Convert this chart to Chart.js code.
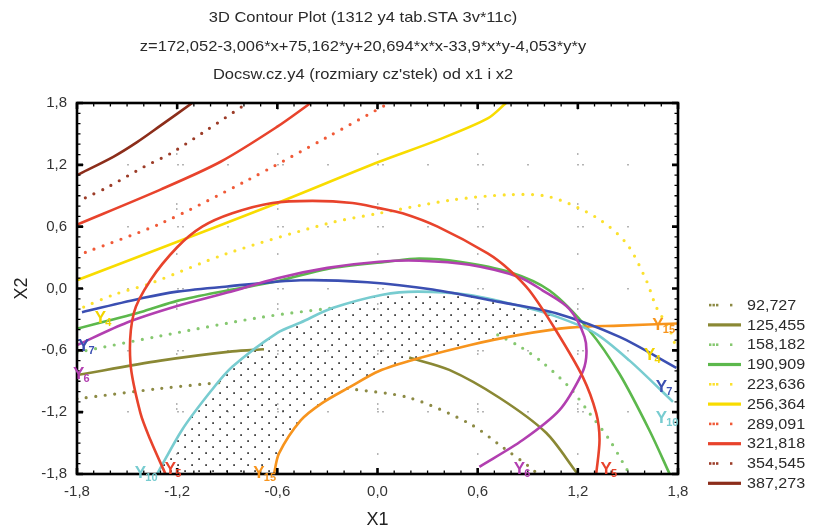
<!DOCTYPE html>
<html>
<head>
<meta charset="utf-8">
<script src="https://cdn.jsdelivr.net/npm/chart.js@4.4.1/dist/chart.umd.min.js"></script>
<style>
  html,body{margin:0;padding:0;background:#fff}
  #wrap{width:813px;height:531px}
</style>
</head>
<body>
<div id="wrap"><canvas id="c" width="813" height="531"></canvas></div>
<script>
// ---- title / legend text
const titleLines = [
  '3D Contour Plot (1312 y4 tab.STA 3v*11c)',
  'z=172,052-3,006*x+75,162*y+20,694*x*x-33,9*x*y-4,053*y*y',
  "Docsw.cz.y4 (rozmiary cz'stek) od x1 i x2"
];
const levelLabels = ['92,727','125,455','158,182','190,909','223,636','256,364','289,091','321,818','354,545','387,273'];
const tickValues = [-1.8,-1.2,-0.6,0,0.6,1.2,1.8];

// ---- contour lines of z (x1, x2)
const c387 = [[-1.8,1.10],[-1.58,1.28],[-1.44,1.42],[-1.30,1.58],[-1.11,1.80]];
const c354 = [[-1.75,0.88],[-1.62,0.98],[-1.40,1.18],[-1.24,1.31],[-1.02,1.54],[-0.78,1.80]];
const c321 = [[-1.8,0.62],[-1.30,0.96],[-0.94,1.23],[-0.60,1.57],[-0.40,1.80]];
const c289 = [[-1.75,0.35],[-1.30,0.63],[-0.78,1.05],[-0.30,1.47],[0.07,1.80]];
const c256 = [[-1.8,0.08],[-1.30,0.39],[-0.63,0.81],[0.01,1.23],[0.36,1.44],[0.66,1.65],[0.77,1.80]];
const c223 = [[-1.76,-0.18],[-1.58,-0.06],[-1.36,0.05],[-0.90,0.34],[-0.30,0.63],[0.01,0.73],[0.45,0.86],
              [0.79,0.91],[1.03,0.89],[1.31,0.69],[1.49,0.44],[1.61,0.08],[1.67,-0.18],[1.75,-0.40],[1.79,-0.58]];
const c190 = [[-1.8,-0.39],[-1.40,-0.22],[-1.20,-0.12],[-0.90,-0.02],[-0.60,0.07],[-0.30,0.19],[0.06,0.26],
              [0.25,0.29],[0.49,0.26],[0.79,0.16],[1.03,-0.02],[1.27,-0.41],[1.45,-0.83],[1.63,-1.38],[1.75,-1.80]];
const c158a = [[-1.8,-0.62],[-1.30,-0.46],[-0.70,-0.28],[-0.28,-0.19]];
const c158b = [[0.72,-0.45],[0.86,-0.57],[0.99,-0.72],[1.15,-0.96],[1.27,-1.21],[1.39,-1.47],[1.47,-1.69],[1.51,-1.80]];
const c125a = [[-1.8,-0.84],[-1.30,-0.70],[-0.87,-0.61],[-0.68,-0.59]];
const c125b = [[0.19,-0.67],[0.43,-0.79],[0.73,-1.06],[1.01,-1.40],[1.19,-1.78],[1.20,-1.80]];
const c92a = [[-1.8,-1.07],[-1.30,-0.97],[-0.93,-0.91]];
const c92b = [[-0.18,-0.97],[0.19,-1.06],[0.55,-1.31],[0.75,-1.54],[0.91,-1.73],[0.96,-1.80]];

// ---- overlaid response curves Y5, Y6, Y7, Y10, Y15
const y5 = [[-1.27,-1.80],[-1.36,-1.47],[-1.42,-1.21],[-1.48,-0.72],[-1.46,-0.24],[-1.36,0.08],[-1.20,0.40],
            [-1.05,0.60],[-0.87,0.73],[-0.63,0.83],[-0.39,0.85],[-0.15,0.83],[0.01,0.78],[0.15,0.73],[0.36,0.60],
            [0.66,0.34],[0.79,0.18],[0.91,-0.02],[1.07,-0.41],[1.23,-0.86],[1.31,-1.21],[1.33,-1.47],[1.31,-1.80]];
const y6 = [[-1.8,-0.55],[-1.50,-0.33],[-1.20,-0.17],[-0.90,-0.04],[-0.60,0.10],[-0.30,0.20],[0.01,0.26],
            [0.25,0.27],[0.55,0.23],[0.85,0.11],[0.99,-0.02],[1.15,-0.20],[1.24,-0.47],[1.25,-0.67],[1.22,-0.84],
            [1.09,-1.18],[0.87,-1.47],[0.61,-1.73]];
const y7 = [[-1.77,-0.23],[-1.40,-0.09],[-1.20,-0.03],[-0.90,0.02],[-0.46,0.08],[-0.06,0.06],[0.33,-0.01],
            [0.73,-0.13],[1.07,-0.24],[1.45,-0.47],[1.79,-0.77]];
const y10 = [[-1.32,-1.80],[-1.17,-1.37],[-1.00,-1.00],[-0.87,-0.76],[-0.60,-0.43],[-0.46,-0.33],[-0.27,-0.19],
             [0.03,-0.06],[0.24,-0.03],[0.54,-0.06],[0.83,-0.16],[1.05,-0.26],[1.30,-0.43],[1.51,-0.70],[1.77,-1.10]];
const y15 = [[-0.62,-1.80],[-0.59,-1.60],[-0.46,-1.28],[-0.33,-1.11],[-0.17,-0.96],[0.01,-0.80],[0.24,-0.68],
             [0.55,-0.55],[0.85,-0.45],[1.15,-0.38],[1.45,-0.36],[1.80,-0.34]];

// ---- curve tags
const tagNum = ['4','7','6','15','4','7','10','10','5','15','6','5'];
const tagX = [-1.64,-1.74,-1.77,1.70,1.65,1.72,1.72,-1.40,-1.22,-0.69,0.87,1.39];
const tagY = [-0.27,-0.54,-0.81,-0.33,-0.63,-0.94,-1.24,-1.77,-1.73,-1.77,-1.73,-1.73];

// ---- styles
const levelColor = ['#8c8a44','#8a8834','#86c870','#5cb84c','#fbe12e','#f8dc00','#f05a38','#e8432c','#9c3c28','#8c2d1a'];
const levelDotted = [true,false,true,false,true,false,true,false,true,false];
const curveColor = {'4':'#f2d400','5':'#e8432c','6':'#b23fb0','7':'#3b4fb2','10':'#78ccd0','15':'#f7941d'};

const FONT = "'Liberation Sans', Arial, sans-serif";
const xy = a => a.map(([x,y]) => ({x, y}));
const fmt = v => { if (Math.abs(v) < 1e-9) v = 0; return v.toFixed(1).replace('.', ','); };

function dotPattern(){
  const p = document.createElement('canvas');
  p.width = 14; p.height = 12;
  const g = p.getContext('2d');
  g.fillStyle = '#444';
  g.fillRect(2.2,2.2,1.8,1.8);
  g.fillRect(9.2,8.2,1.8,1.8);
  return document.getElementById('c').getContext('2d').createPattern(p,'repeat');
}

function curve(data, color, dotted, order){
  return {
    data: xy(data), showLine: true, pointRadius: 0, borderColor: color,
    borderWidth: dotted ? 3.2 : 2.6, borderDash: dotted ? [0, 9.5] : [],
    borderCapStyle: dotted ? 'round' : 'butt', tension: 0.3, fill: false, order: order
  };
}

// feasible area: under Y10, above Y15
const shade = y10.filter(p => p[0] <= 1.06).concat([[1.08,-0.32]], y15.filter(p => p[0] <= 1.0).reverse());

const contourSets = [
  [c92a,0],[c92b,0],[c125a,1],[c125b,1],[c158a,2],[c158b,2],[c190,3],[c223,4],[c256,5],[c289,6],[c321,7],[c354,8],[c387,9]
].map(([d,i]) => curve(d, levelColor[i], levelDotted[i], 5));

const responseSets = [[y5,'5'],[y6,'6'],[y7,'7'],[y10,'10'],[y15,'15']]
  .map(([d,k]) => curve(d, curveColor[k], false, 1));

function stretchText(ctx, text, x, y, align, sx){
  ctx.save();
  ctx.translate(x, y);
  ctx.scale(sx, 1);
  ctx.textAlign = align;
  ctx.fillText(text, 0, 0);
  ctx.restore();
}

const decor = {
  id: 'decor',
  afterDatasetsDraw(chart){
    const {ctx, chartArea: a, scales: {x, y}} = chart;
    ctx.save();
    ctx.strokeStyle = '#000';
    for (let i = -18; i <= 18; i++){
      const v = i / 10, px = x.getPixelForValue(v), py = y.getPixelForValue(v);
      const major = i % 6 === 0, L = major ? 6 : 3.5;
      ctx.lineWidth = major ? 2.6 : 1.3;
      ctx.beginPath();
      ctx.moveTo(px, a.bottom); ctx.lineTo(px, a.bottom - L);
      ctx.moveTo(px, a.top); ctx.lineTo(px, a.top + L);
      ctx.moveTo(a.left, py); ctx.lineTo(a.left + L, py);
      ctx.moveTo(a.right, py); ctx.lineTo(a.right - L, py);
      ctx.stroke();
    }
    ctx.lineWidth = 2.6;
    ctx.strokeRect(a.left, a.top, a.right - a.left, a.bottom - a.top);
    ctx.restore();
  },
  afterDraw(chart){
    const {ctx, chartArea: a, scales: {x, y}} = chart;
    ctx.save();
    // title
    ctx.fillStyle = '#2a2a2a';
    ctx.font = '15px ' + FONT;
    ctx.textBaseline = 'middle';
    titleLines.forEach((t, i) => stretchText(ctx, t, 363, 18 + i * 28.5, 'center', 1.1));
    // legend
    levelLabels.forEach((t, i) => {
      const ly = a.top + 202 + i * 19.8;
      ctx.fillStyle = levelColor[i];
      if (levelDotted[i]){
        [709, 712.5, 716, 730].forEach(dx => ctx.fillRect(dx, ly - 1.2, 2.4, 2.6));
      } else {
        ctx.fillRect(708, ly - 1.5, 33, 3.2);
      }
      ctx.fillStyle = '#2a2a2a';
      ctx.font = '14px ' + FONT;
      stretchText(ctx, t, 747, ly + 1, 'left', 1.15);
    });
    // curve tags
    tagNum.forEach((n, i) => {
      const px = x.getPixelForValue(tagX[i]), py = y.getPixelForValue(tagY[i]);
      ctx.fillStyle = curveColor[n];
      ctx.textBaseline = 'alphabetic';
      ctx.textAlign = 'left';
      ctx.font = 'bold 17px ' + FONT;
      ctx.fillText('Y', px - 9, py + 7);
      ctx.font = 'bold 11px ' + FONT;
      ctx.fillText(n, px + 1.5, py + 10);
    });
    ctx.restore();
  }
};

new Chart(document.getElementById('c'), {
  type: 'scatter',
  data: {
    datasets: [
      { data: xy(shade), showLine: true, pointRadius: 0, borderWidth: 0, tension: 0.3,
        fill: 'shape', backgroundColor: dotPattern(), order: 20 },
      ...contourSets,
      ...responseSets
    ]
  },
  options: {
    responsive: false,
    animation: false,
    events: [],
    layout: { padding: { left: 0, right: 135, top: 103, bottom: 0 } },
    plugins: { legend: { display: false }, tooltip: { enabled: false }, title: { display: false } },
    scales: {
      x: {
        type: 'linear', min: -1.8, max: 1.8,
        afterBuildTicks: s => { s.ticks = tickValues.map(v => ({value: v})); },
        afterFit: s => { s.height = 57; },
        ticks: { callback: v => fmt(v), padding: 9, color: '#333', font: { family: FONT, size: 15 } },
        grid: { color: '#b4b4b4', lineWidth: 1.5, drawTicks: false },
        border: { display: false, dash: [2, 3, 2, 43, 2, 48] },
        title: { display: true, text: 'X1', color: '#222', font: { family: FONT, size: 18 }, padding: { top: 0, bottom: 0 } }
      },
      y: {
        type: 'linear', min: -1.8, max: 1.8,
        afterBuildTicks: s => { s.ticks = tickValues.map(v => ({value: v})); },
        afterFit: s => { s.width = 77; },
        ticks: { callback: v => fmt(v), padding: 10, color: '#333', font: { family: FONT, size: 15 } },
        grid: { color: '#b4b4b4', lineWidth: 1.5, drawTicks: false },
        border: { display: false, dash: [2, 3, 2, 43, 2, 48] },
        title: { display: true, text: 'X2', color: '#222', font: { family: FONT, size: 18 }, padding: { top: 11, bottom: 0 } }
      }
    }
  },
  plugins: [decor]
});
</script>
</body>
</html>
